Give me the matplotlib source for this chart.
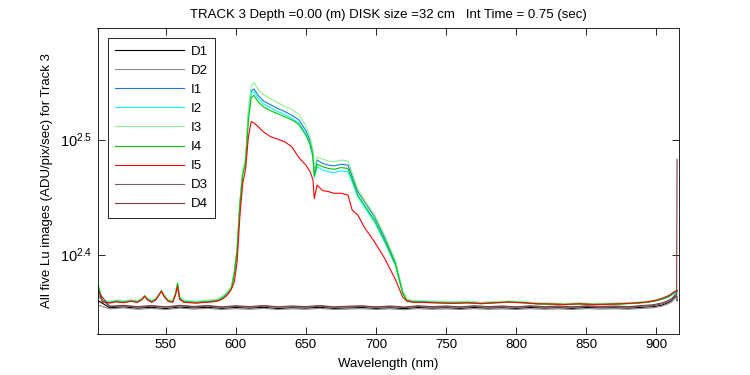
import matplotlib
matplotlib.use("Agg")
import matplotlib.pyplot as plt
from matplotlib.ticker import FixedLocator, FixedFormatter, NullLocator

# ---------------- data ----------------
wl_i = [502, 505, 510, 515, 520, 525, 530, 533, 535, 537,
        540, 543, 545, 547, 549, 552, 555, 557, 558.5, 560,
        563, 567, 572, 577, 582, 587, 590, 593, 595, 597,
        599, 601, 603, 605, 607, 609, 611, 613, 616, 620,
        625, 630, 635, 640, 645, 650, 653, 655, 656, 658,
        662, 666, 670, 675, 680, 683, 687, 692, 699, 706,
        714, 719, 722, 726, 735, 745, 755, 765, 775, 785,
        795, 805, 815, 825, 835, 845, 855, 865, 875, 885,
        893, 900, 905, 909, 912, 914.7]

I1 = [234, 228.8, 228.4, 229, 228.6, 229.2, 228.8, 229.8, 231.2, 229.8,
      228.9, 229.8, 231.7, 233.6, 231.3, 229.1, 228.8, 232.3, 236.8, 230.3,
      228.8, 228.6, 228.4, 228.7, 228.9, 229.3, 230.4, 231.8, 233.4, 235.5,
      242.5, 254, 279, 296.5, 303, 333, 348.5, 350, 345.5, 341.5,
      339, 336.5, 334.5, 332, 329, 322, 315.5, 308, 296, 303.5,
      301.5, 300.5, 300, 301, 300.5, 294, 285, 279, 270.8, 260,
      247, 233.2, 229.4, 228.8, 228.6, 228.4, 228.2, 228.4, 228, 228.3,
      228.6, 228.3, 227.8, 227.7, 227.5, 227.8, 227.5, 227.6, 227.8, 228,
      228.4, 229.2, 230.2, 231.2, 232.6, 233.2]

I2 = [233, 228.6, 228.2, 228.8, 228.4, 229, 228.6, 229.6, 231, 229.6,
      228.7, 229.6, 231.5, 233.3, 231.1, 228.9, 228.6, 232, 236.5, 230.1,
      228.6, 228.4, 228.2, 228.5, 228.7, 229.1, 230.2, 231.6, 233.2, 235.2,
      242, 253.8, 278.5, 296, 302.5, 331, 347, 348, 343.5, 339.5,
      337, 334.5, 332.5, 330, 327, 320, 313.5, 305, 293, 299.5,
      297.5, 296.5, 296, 297, 296.5, 290.5, 282, 276, 268, 257.8,
      245.5, 232.4, 229, 228.5, 228.3, 228.1, 227.9, 228.1, 227.7, 228,
      228.4, 228.1, 227.6, 227.5, 227.3, 227.6, 227.3, 227.4, 227.6, 227.9,
      228.3, 229, 229.8, 230.8, 232, 232.5]

I3 = [235, 229.2, 228.8, 229.4, 229, 229.5, 229.2, 230.2, 231.5, 230.2,
      229.3, 230.2, 232, 234, 231.8, 229.5, 229.2, 232.8, 237.5, 230.8,
      229.3, 229, 228.8, 229.2, 229.4, 229.8, 231, 232.5, 234, 236,
      243, 255, 280, 298, 305, 336, 352, 354.5, 349.5, 346,
      343, 340.5, 338, 336, 332.5, 325, 318, 310, 297.5, 305.5,
      304, 303, 302.5, 303.5, 303, 296, 286.5, 280, 272, 261.5,
      248, 233.8, 229.8, 229.2, 229, 228.8, 228.5, 228.8, 228.3, 228.6,
      228.9, 228.6, 228, 227.9, 227.8, 228, 227.8, 227.9, 228, 228.3,
      228.7, 229.5, 230.5, 231.6, 233, 234]

I4 = [236, 228.5, 228, 228.6, 228.2, 228.8, 228.4, 229.5, 231, 229.5,
      228.5, 229.5, 231.5, 233.5, 231, 228.8, 228.5, 232, 237, 230,
      228.5, 228.3, 228, 228.4, 228.6, 229, 230, 231.5, 233, 235,
      242, 253.5, 278, 295, 301.6, 329, 344, 345.5, 341, 337.5,
      335, 333, 331, 329, 326, 319, 313, 306, 294, 301,
      299.5, 298.5, 298, 299, 298.5, 292, 283, 277, 269, 258.6,
      246, 232.6, 229, 228.5, 228.2, 228, 227.8, 228, 227.6, 228,
      228.3, 228, 227.5, 227.4, 227.2, 227.5, 227.2, 227.3, 227.5, 227.8,
      228.2, 229, 230, 231, 232.5, 233.5]

I5 = [234, 228.4, 228, 228.5, 228.1, 228.7, 228.3, 229.5, 231.2, 229.4,
      228.3, 229.4, 231.4, 233.4, 230.8, 228.6, 228.3, 231.5, 235.6, 229.6,
      228.3, 228.1, 227.9, 228.2, 228.4, 228.8, 229.6, 231, 232.5, 234.5,
      238, 248, 272, 290, 298, 318, 327.8, 327, 324.5, 321,
      318, 316.5, 314.8, 311.7, 305, 300.5, 296.5, 292, 281, 288.7,
      285.5, 285, 284, 284, 283, 274.6, 271.9, 264.9, 257.6, 249.5,
      238.7, 230.7, 228.8, 228.3, 228.2, 228, 227.8, 228.1, 227.7, 228.1,
      228.4, 228.1, 227.6, 227.5, 227.3, 227.6, 227.3, 227.4, 227.6, 228,
      228.4, 229.2, 230.3, 231.4, 232.8, 233.8]

wl_d = [502, 510, 520, 530, 540, 550, 560, 570, 580, 590,
        600, 610, 620, 630, 640, 650, 660, 670, 680, 690,
        700, 710, 720, 730, 740, 750, 760, 770, 780, 790,
        800, 810, 820, 830, 840, 850, 860, 870, 880, 890,
        898, 904, 908, 911, 913, 914.4, 914.7]

D1 = [229, 225.8, 226.2, 225.6, 226, 225.4, 226.1, 225.7, 226, 225.5,
      225.9, 225.6, 226, 225.4, 225.8, 225.6, 226, 225.5, 225.7, 225.9,
      225.5, 225.8, 225.4, 225.9, 225.6, 225.8, 225.5, 225.9, 225.6, 225.8,
      225.5, 225.9, 225.6, 225.8, 225.5, 225.9, 225.7, 225.8, 225.6, 226,
      226.3, 227, 228, 229, 230.5, 231, 229]

D2 = [227, 225.3, 225.7, 225.1, 225.5, 225, 225.6, 225.2, 225.5, 225,
      225.4, 225.1, 225.5, 225, 225.3, 225.1, 225.5, 225, 225.2, 225.4,
      225, 225.3, 224.9, 225.4, 225.1, 225.3, 225, 225.4, 225.1, 225.3,
      225, 225.4, 225.1, 225.3, 225, 225.4, 225.2, 225.3, 225.1, 225.5,
      225.8, 226.5, 227.5, 228.5, 230, 230.5, 229.5]

D3 = [231, 226.3, 226.6, 226.1, 226.5, 226, 226.6, 226.2, 226.5, 226,
      226.4, 226.1, 226.5, 226, 226.3, 226.1, 226.5, 226, 226.2, 226.4,
      226, 226.3, 225.9, 226.4, 226.1, 226.3, 226, 226.4, 226.1, 226.3,
      226, 226.4, 226.1, 226.3, 226, 226.4, 226.2, 226.3, 226.1, 226.5,
      226.8, 227.5, 228.5, 229.5, 231, 231.5, 230.5]

D4 = [233, 226.5, 226.9, 226.3, 226.8, 226.2, 226.9, 226.4, 226.8, 226.2,
      226.7, 226.3, 226.8, 226.2, 226.6, 226.3, 226.8, 226.2, 226.5, 226.7,
      226.2, 226.6, 226.1, 226.7, 226.3, 226.6, 226.2, 226.7, 226.3, 226.6,
      226.2, 226.7, 226.3, 226.6, 226.2, 226.7, 226.4, 226.6, 226.3, 226.8,
      227.2, 228, 229, 230, 231.5, 232, 304]

labels = ["D1", "D2", "I1", "I2", "I3", "I4", "I5", "D3", "D4"]
xticks = [550, 600, 650, 700, 750, 800, 850, 900]
yticks_exp = [2.4, 2.5]

title = "TRACK 3 Depth =0.00 (m) DISK size =32 cm   Int Time = 0.75 (sec)"
xlabel = "Wavelength (nm)"
ylabel = "All five Lu images (ADU/pix/sec) for Track 3"

# ---------------- styling ----------------
FS = 9.5
plt.rcParams["font.family"] = ["Liberation Sans", "DejaVu Sans"]
plt.rcParams["mathtext.fontset"] = "custom"
plt.rcParams["mathtext.rm"] = "Liberation Sans"
plt.rcParams["mathtext.it"] = "Liberation Sans"
plt.rcParams["font.size"] = FS

colors = {
    "D1": "#000000",
    "D2": "#8c8c8c",
    "I1": "#1f78dc",
    "I2": "#00ffff",
    "I3": "#90f090",
    "I4": "#00c800",
    "I5": "#ff0000",
    "D3": "#7d5f5f",
    "D4": "#803a3a",
}

series = {
    "D1": (wl_d, D1), "D2": (wl_d, D2),
    "I1": (wl_i, I1), "I2": (wl_i, I2), "I3": (wl_i, I3),
    "I4": (wl_i, I4), "I5": (wl_i, I5),
    "D3": (wl_d, D3), "D4": (wl_d, D4),
}

fig = plt.figure(figsize=(7.5, 3.75), dpi=100)
ax = fig.add_axes([0.13, 0.11, 0.775, 0.815])

for name in labels:
    x, y = series[name]
    ax.plot(x, y, color=colors[name], lw=0.8, label=name)

ax.set_yscale("log")
ax.set_xlim(501.4, 915.9)
ax.set_ylim(10 ** 2.3311, 10 ** 2.597)

ax.xaxis.set_major_locator(FixedLocator(xticks))
ax.set_xticklabels([str(t) for t in xticks])
ax.yaxis.set_major_locator(FixedLocator([10 ** e for e in yticks_exp]))
ax.yaxis.set_major_formatter(FixedFormatter(
    ["$\\mathregular{10^{%.1f}}$" % e for e in yticks_exp]))
ax.yaxis.set_minor_locator(NullLocator())
ax.xaxis.set_minor_locator(NullLocator())

ax.tick_params(direction="in", length=4.7, width=0.6, top=True, right=True,
               labelsize=FS, pad=4)
ax.tick_params(axis="y", labelsize=10.5)
for sp in ax.spines.values():
    sp.set_linewidth(0.6)

ax.set_title(title, fontsize=FS, pad=7)
ax.set_xlabel(xlabel, fontsize=FS, labelpad=5)
ax.set_ylabel(ylabel, fontsize=FS, labelpad=5)

leg = ax.legend(loc="upper left", bbox_to_anchor=(0.018, 0.967),
                borderaxespad=0, frameon=True, fancybox=False,
                framealpha=1, edgecolor="black", handlelength=5.2,
                handletextpad=0.5, labelspacing=0.52, borderpad=0.55,
                fontsize=FS)
leg.get_frame().set_linewidth(0.6)

fig.savefig("out.png", dpi=100)
